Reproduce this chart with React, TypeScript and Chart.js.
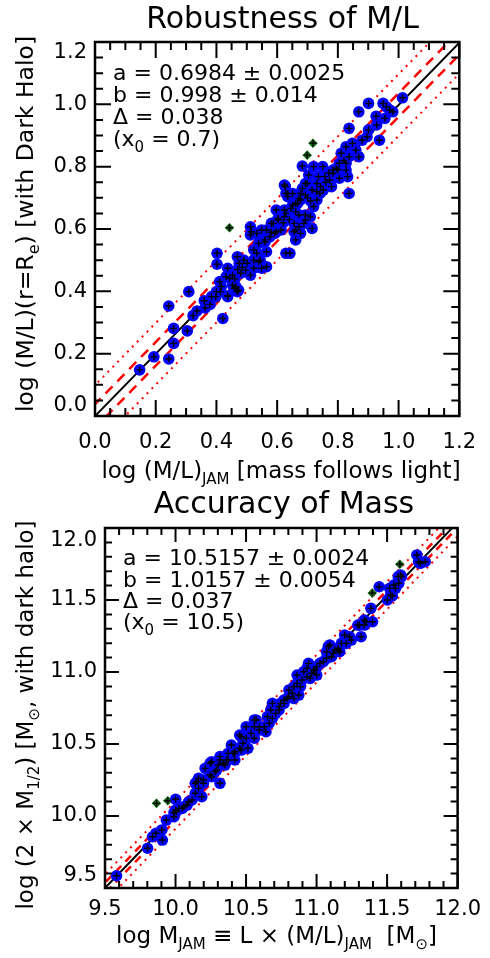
import React, { useEffect, useRef } from "react";
import { Chart, registerables } from "chart.js";

Chart.register(...registerables);

const FONT = "'DejaVu Sans', 'Liberation Sans', sans-serif";
const BLUE = "#0000ff";
const RED = "#ff0000";
const GREEN = "rgb(16,110,16)";

// ---------------- Panel 1: Robustness of M/L ----------------
const mlJam = [
  0.147, 0.194, 0.243, 0.259, 0.259, 0.243, 0.304, 0.323, 0.336, 0.309, 0.363, 0.379, 0.384, 0.4, 0.421, 0.437,
  0.416, 0.411, 0.402, 0.402, 0.432, 0.453, 0.459, 0.473, 0.475, 0.469, 0.485, 0.501, 0.512, 0.523, 0.533, 0.544,
  0.549, 0.565, 0.565, 0.56, 0.576, 0.597, 0.512, 0.515, 0.549, 0.587, 0.603, 0.624, 0.629, 0.642, 0.624, 0.635,
  0.627, 0.635, 0.651, 0.661, 0.667, 0.672, 0.677, 0.683, 0.699, 0.704, 0.683, 0.72, 0.75, 0.656, 0.661, 0.677,
  0.688, 0.715, 0.693, 0.709, 0.72, 0.731, 0.741, 0.743, 0.752, 0.736, 0.757, 0.773, 0.784, 0.795, 0.779, 0.805,
  0.811, 0.827, 0.837, 0.827, 0.832, 0.837, 0.848, 0.859, 0.869, 0.88, 0.896, 0.901, 0.837, 0.869, 0.901, 0.928,
  0.937, 0.926, 0.949, 0.96, 0.955, 0.971, 0.981, 1.013, 0.784, 0.827, 0.624, 0.629, 0.651, 0.693, 0.715, 0.731,
  0.597, 0.603, 0.629, 0.645, 0.661, 0.677, 0.693, 0.672, 0.693, 0.672, 0.656, 0.661, 0.581, 0.565, 0.533, 0.512,
  0.539, 0.523, 0.56, 0.592, 0.613, 0.496, 0.48, 0.523, 0.539, 0.443, 0.464, 0.437, 0.805, 0.62, 0.64, 0.7,
  0.71, 0.73, 0.76, 0.77, 0.8, 0.82, 0.58, 0.47, 0.36, 0.46, 0.49, 0.398, 0.413, 0.453, 0.469, 0.437,
];
const mlHalo = [
  0.148, 0.19, 0.183, 0.233, 0.281, 0.353, 0.273, 0.322, 0.337, 0.399, 0.347, 0.358, 0.383, 0.399, 0.313, 0.386,
  0.415, 0.431, 0.487, 0.522, 0.447, 0.452, 0.41, 0.404, 0.49, 0.511, 0.477, 0.49, 0.452, 0.5, 0.522, 0.5,
  0.474, 0.479, 0.527, 0.559, 0.575, 0.591, 0.607, 0.591, 0.597, 0.618, 0.629, 0.639, 0.522, 0.522, 0.661, 0.704,
  0.736, 0.714, 0.677, 0.655, 0.682, 0.698, 0.714, 0.73, 0.746, 0.773, 0.802, 0.8, 0.8, 0.618, 0.597, 0.586,
  0.618, 0.602, 0.645, 0.639, 0.672, 0.693, 0.714, 0.736, 0.725, 0.768, 0.768, 0.757, 0.778, 0.795, 0.736, 0.811,
  0.843, 0.864, 0.832, 0.789, 0.768, 0.714, 0.875, 0.853, 0.832, 0.885, 0.896, 0.918, 0.923, 0.976, 1.003, 0.934,
  0.885, 0.962, 1.003, 0.992, 0.955, 0.982, 0.976, 1.021, 0.789, 0.811, 0.741, 0.714, 0.714, 0.746, 0.725, 0.746,
  0.661, 0.634, 0.65, 0.666, 0.682, 0.693, 0.709, 0.645, 0.629, 0.607, 0.591, 0.565, 0.618, 0.597, 0.586, 0.581,
  0.554, 0.533, 0.565, 0.586, 0.597, 0.468, 0.458, 0.474, 0.495, 0.442, 0.415, 0.474, 0.763, 0.62, 0.63, 0.7,
  0.69, 0.72, 0.75, 0.78, 0.79, 0.82, 0.59, 0.47, 0.37, 0.44, 0.5, 0.383, 0.399, 0.42, 0.399, 0.383,
];
const mlOutlierJam = [0.443, 0.699, 0.718];
const mlOutlierHalo = [0.604, 0.837, 0.875];
const mlFitA = 0.6984;
const mlFitB = 0.998;
const mlFitX0 = 0.7;
const mlBandInner = 0.038;
const mlBandOuter = 0.099;
const mlLineX = [-0.2, 1.4];
const mlMajorTicks = [0, 0.2, 0.4, 0.6, 0.8, 1.0, 1.2];
const mlAllTicks = [
  0, 0.05, 0.1, 0.15, 0.2, 0.25, 0.3, 0.35, 0.4, 0.45, 0.5, 0.55, 0.6, 0.65, 0.7, 0.75, 0.8, 0.85, 0.9, 0.95, 1.0,
  1.05, 1.1, 1.15, 1.2,
];

// ---------------- Panel 2: Accuracy of Mass ----------------
const massJam = [
  9.582, 9.802, 9.837, 9.861, 9.907, 9.903, 9.935, 9.989, 10.005, 10.001, 10.047, 10.082, 10.117, 10.14, 10.163,
  10.186, 10.14, 10.163, 10.198, 10.21, 10.245, 10.256, 10.291, 10.315, 10.315, 10.35, 10.373, 10.396, 10.408,
  10.42, 10.455, 10.478, 10.455, 10.513, 10.501, 10.536, 10.559, 10.559, 10.594, 10.629, 10.641, 10.664, 10.687,
  10.687, 10.71, 10.734, 10.745, 10.769, 10.792, 10.804, 10.827, 10.839, 10.862, 10.862, 10.885, 10.897, 10.909,
  10.932, 10.943, 10.966, 10.989, 11.001, 11.024, 11.048, 11.071, 11.083, 11.106, 11.118, 11.153, 11.164, 11.199,
  11.211, 11.234, 11.246, 11.316, 11.304, 11.339, 11.351, 11.397, 11.385, 11.444, 11.502, 11.525, 11.518, 11.548,
  11.583, 11.579, 11.595, 11.711, 11.723, 11.77, 11.176, 11.153, 11.094, 11.071, 10.932, 10.978, 10.955, 11.001,
  10.804, 10.839, 10.874, 10.769, 10.734, 10.675, 10.652, 10.571, 10.594, 10.501, 10.466, 10.559, 10.42, 10.466,
  10.373, 11.735, 11.602, 11.56, 11.537, 11.339, 11.293, 11.129, 9.989, 10.001, 10.024, 10.059, 10.094, 10.152,
  10.198, 10.245, 10.256, 10.28, 10.303, 10.315, 10.338, 10.361, 10.42,
];
const massHalo = [
  9.585, 9.776, 9.856, 9.88, 9.833, 9.903, 9.972, 9.995, 10.03, 10.116, 10.053, 10.076, 10.111, 10.158, 10.192,
  10.134, 10.227, 10.262, 10.227, 10.331, 10.366, 10.273, 10.319, 10.227, 10.389, 10.354, 10.389, 10.493, 10.435,
  10.389, 10.47, 10.505, 10.562, 10.47, 10.54, 10.574, 10.62, 10.667, 10.597, 10.62, 10.585, 10.644, 10.678,
  10.782, 10.713, 10.736, 10.782, 10.782, 10.817, 10.875, 10.852, 10.898, 10.921, 10.979, 10.898, 10.944, 11.002,
  10.967, 11.06, 10.991, 11.014, 11.037, 11.06, 11.072, 11.095, 11.176, 11.106, 11.13, 11.165, 11.141, 11.257,
  11.199, 11.245, 11.222, 11.245, 11.326, 11.326, 11.349, 11.349, 11.442, 11.592, 11.5, 11.535, 11.581, 11.604,
  11.616, 11.662, 11.674, 11.813, 11.766, 11.766, 11.199, 11.153, 11.188, 11.141, 11.026, 11.014, 10.956, 10.979,
  10.828, 10.817, 10.84, 10.806, 10.759, 10.736, 10.69, 10.667, 10.62, 10.62, 10.551, 10.54, 10.447, 10.458,
  10.435, 11.755, 11.662, 11.581, 11.528, 11.361, 11.326, 11.153, 10.023, 10.042, 10.053, 10.065, 10.099, 10.238,
  10.25, 10.285, 10.377, 10.308, 10.354, 10.412, 10.366, 10.389, 10.435,
];
const massOutlierJam = [9.865, 9.945, 11.395, 11.59];
const massOutlierHalo = [10.088, 10.106, 11.548, 11.748];
const massFitA = 10.5157;
const massFitB = 1.0157;
const massFitX0 = 10.5;
const massBandInner = 0.037;
const massBandOuter = 0.096;
const massLineX = [9.3, 12.2];
const massMajorTicks = [9.5, 10.0, 10.5, 11.0, 11.5, 12.0];
const massAllTicks = [
  9.5, 9.6, 9.7, 9.8, 9.9, 10.0, 10.1, 10.2, 10.3, 10.4, 10.5, 10.6, 10.7, 10.8, 10.9, 11.0, 11.1, 11.2, 11.3, 11.4,
  11.5, 11.6, 11.7, 11.8, 11.9, 12.0,
];

type Seg = { t: string; sub?: boolean };
type TextItem = { segs: Seg[]; x: number; y: number; size: number; align: "left" | "center"; rotate?: boolean };

function drawRich(ctx: CanvasRenderingContext2D, item: TextItem) {
  const { segs, x, y, size, align, rotate } = item;
  const subSize = Math.round(size * 0.66);
  ctx.save();
  ctx.translate(x, y);
  if (rotate) ctx.rotate(-Math.PI / 2);
  ctx.fillStyle = "#000";
  ctx.textBaseline = "alphabetic";
  ctx.textAlign = "left";
  let total = 0;
  const widths = segs.map((s) => {
    ctx.font = `${s.sub ? subSize : size}px ${FONT}`;
    const w = ctx.measureText(s.t).width;
    total += w;
    return w;
  });
  let cx = align === "center" ? -total / 2 : 0;
  segs.forEach((s, i) => {
    ctx.font = `${s.sub ? subSize : size}px ${FONT}`;
    ctx.fillText(s.t, cx, s.sub ? size * 0.27 : 0);
    cx += widths[i];
  });
  ctx.restore();
}

type PanelSpec = {
  xs: number[];
  ys: number[];
  gx: number[];
  gy: number[];
  a: number;
  b: number;
  x0: number;
  inner: number;
  outer: number;
  lineX: number[];
  min: number;
  max: number;
  allTicks: number[];
  majors: number[];
  yAxisWidth: number;
  padding: { top: number; right: number; bottom: number };
  xTickPad: number;
  yLineHeight: number;
  majorLen: number;
  minorLen: number;
  dash: number[];
  texts: TextItem[];
};

function isMajor(v: number, majors: number[]) {
  return majors.some((m) => Math.abs(m - v) < 1e-6);
}

function makeChart(canvas: HTMLCanvasElement, p: PanelSpec) {
  const fit = (x: number, off: number) => ({ x, y: p.a + p.b * (x - p.x0) + off });
  const line = (off: number, color: string, width: number, dash: number[]) => ({
    data: p.lineX.map((x) => fit(x, off)),
    showLine: true,
    pointRadius: 0,
    borderColor: color,
    borderWidth: width,
    borderDash: dash,
    fill: false,
    clip: 0,
    order: 3,
  });
  const blue = p.xs.map((x, i) => ({ x, y: p.ys[i] }));
  const green = p.gx.map((x, i) => ({ x, y: p.gy[i] }));

  const framePlugin = {
    id: "frameTicks",
    afterDatasetsDraw(chart: any) {
      const { ctx, chartArea: ca, scales } = chart;
      const xs = scales.x;
      const ys = scales.y;
      ctx.save();
      ctx.strokeStyle = "#000";
      ctx.lineWidth = 2;
      ctx.beginPath();
      p.allTicks.forEach((v) => {
        const len = isMajor(v, p.majors) ? p.majorLen : p.minorLen;
        const px = xs.getPixelForValue(v);
        ctx.moveTo(px, ca.bottom);
        ctx.lineTo(px, ca.bottom - len);
        ctx.moveTo(px, ca.top);
        ctx.lineTo(px, ca.top + len);
        const py = ys.getPixelForValue(v);
        ctx.moveTo(ca.left, py);
        ctx.lineTo(ca.left + len, py);
        ctx.moveTo(ca.right, py);
        ctx.lineTo(ca.right - len, py);
      });
      ctx.stroke();
      ctx.lineWidth = 2.5;
      ctx.strokeRect(ca.left, ca.top, ca.right - ca.left, ca.bottom - ca.top);
      ctx.restore();
    },
    afterDraw(chart: any) {
      const ctx = chart.ctx as CanvasRenderingContext2D;
      p.texts.forEach((t) => drawRich(ctx, t));
    },
  };

  const tickFont = { family: FONT, size: 21 };

  return new Chart(canvas, {
    type: "scatter",
    data: {
      datasets: [
        {
          data: blue.concat(green),
          pointStyle: "cross",
          pointRadius: 3.5,
          borderColor: "#000",
          borderWidth: 1.4,
          backgroundColor: "#000",
          order: 0,
          clip: false,
        } as any,
        {
          data: blue,
          pointStyle: "circle",
          pointRadius: 5.8,
          backgroundColor: BLUE,
          borderWidth: 0,
          order: 1,
          clip: false,
        },
        {
          data: green,
          pointStyle: "rectRot",
          pointRadius: 4.8,
          backgroundColor: GREEN,
          borderWidth: 0,
          order: 1,
          clip: false,
        },
        line(0, "#000", 2, []),
        line(p.inner, RED, 2.5, p.dash),
        line(-p.inner, RED, 2.5, p.dash),
        line(p.outer, RED, 2, [2, 5]),
        line(-p.outer, RED, 2, [2, 5]),
      ] as any,
    },
    options: {
      responsive: false,
      animation: false,
      events: [],
      layout: { padding: { top: p.padding.top, right: p.padding.right, bottom: p.padding.bottom, left: 0 } },
      plugins: { legend: { display: false }, tooltip: { enabled: false } },
      scales: {
        x: {
          type: "linear",
          min: p.min,
          max: p.max,
          afterBuildTicks: (s: any) => {
            s.ticks = p.allTicks.map((v) => ({ value: v }));
          },
          afterFit: (s: any) => {
            s.height = 40;
          },
          grid: { display: false, drawTicks: false },
          border: { display: false },
          ticks: {
            autoSkip: false,
            maxRotation: 0,
            minRotation: 0,
            padding: p.xTickPad,
            color: "#000",
            font: tickFont,
            callback: (v: any) => (isMajor(Number(v), p.majors) ? Number(v).toFixed(1) : ""),
          },
        },
        y: {
          type: "linear",
          min: p.min,
          max: p.max,
          afterBuildTicks: (s: any) => {
            s.ticks = p.allTicks.map((v) => ({ value: v }));
          },
          afterFit: (s: any) => {
            s.width = p.yAxisWidth;
          },
          grid: { display: false, drawTicks: false },
          border: { display: false },
          ticks: {
            autoSkip: false,
            padding: 8,
            color: "#000",
            font: { ...tickFont, lineHeight: p.yLineHeight },
            callback: (v: any) => {
              const n = Number(v);
              if (!isMajor(n, p.majors)) return "";
              const s = n.toFixed(1);
              if (Math.abs(n - p.max) < 1e-6) return ["", s];
              if (Math.abs(n - p.min) < 1e-6) return [s, ""];
              return s;
            },
          },
        },
      },
    } as any,
    plugins: [framePlugin],
  });
}

const topSpec: PanelSpec = {
  xs: mlJam,
  ys: mlHalo,
  gx: mlOutlierJam,
  gy: mlOutlierHalo,
  a: mlFitA,
  b: mlFitB,
  x0: mlFitX0,
  inner: mlBandInner,
  outer: mlBandOuter,
  lineX: mlLineX,
  min: 0,
  max: 1.2,
  allTicks: mlAllTicks,
  majors: mlMajorTicks,
  yAxisWidth: 95,
  padding: { top: 42, right: 20, bottom: 32 },
  xTickPad: 14,
  yLineHeight: 1.0,
  majorLen: 16,
  minorLen: 8,
  dash: [10, 7],
  texts: [
    { segs: [{ t: "Robustness of M/L" }], x: 282.5, y: 28, size: 30, align: "center" },
    { segs: [{ t: "a = 0.6984 ± 0.0025" }], x: 113, y: 80, size: 22, align: "left" },
    { segs: [{ t: "b = 0.998 ± 0.014" }], x: 113, y: 102, size: 22, align: "left" },
    { segs: [{ t: "Δ = 0.038" }], x: 113, y: 124, size: 22, align: "left" },
    { segs: [{ t: "(x" }, { t: "0", sub: true }, { t: " = 0.7)" }], x: 113, y: 146, size: 22, align: "left" },
    {
      segs: [{ t: "log (M/L)" }, { t: "JAM", sub: true }, { t: " [mass follows light]" }],
      x: 281,
      y: 478,
      size: 23,
      align: "center",
    },
    {
      segs: [{ t: "log (M/L)(r=R" }, { t: "e", sub: true }, { t: ") [with Dark Halo]" }],
      x: 33,
      y: 224,
      size: 23.5,
      align: "center",
      rotate: true,
    },
  ],
};

const bottomSpec: PanelSpec = {
  xs: massJam,
  ys: massHalo,
  gx: massOutlierJam,
  gy: massOutlierHalo,
  a: massFitA,
  b: massFitB,
  x0: massFitX0,
  inner: massBandInner,
  outer: massBandOuter,
  lineX: massLineX,
  min: 9.5,
  max: 12.0,
  allTicks: massAllTicks,
  majors: massMajorTicks,
  yAxisWidth: 105,
  padding: { top: 40, right: 27, bottom: 30 },
  xTickPad: 9,
  yLineHeight: 1.15,
  majorLen: 14,
  minorLen: 7,
  dash: [8, 6],
  texts: [
    { segs: [{ t: "Accuracy of Mass" }], x: 284, y: 25, size: 30, align: "center" },
    { segs: [{ t: "a = 10.5157 ± 0.0024" }], x: 123, y: 77, size: 22, align: "left" },
    { segs: [{ t: "b = 1.0157 ± 0.0054" }], x: 123, y: 99, size: 22, align: "left" },
    { segs: [{ t: "Δ = 0.037" }], x: 123, y: 120, size: 22, align: "left" },
    { segs: [{ t: "(x" }, { t: "0", sub: true }, { t: " = 10.5)" }], x: 123, y: 141, size: 22, align: "left" },
    {
      segs: [
        { t: "log M" },
        { t: "JAM", sub: true },
        { t: " ≡ L × (M/L)" },
        { t: "JAM", sub: true },
        { t: "  [M" },
        { t: "⊙", sub: true },
        { t: "]" },
      ],
      x: 276.5,
      y: 455,
      size: 23,
      align: "center",
    },
    {
      segs: [
        { t: "log (2 × M" },
        { t: "1/2", sub: true },
        { t: ") [M" },
        { t: "⊙", sub: true },
        { t: ", with dark halo]" },
      ],
      x: 33,
      y: 227,
      size: 23,
      align: "center",
      rotate: true,
    },
  ],
};

export default function App() {
  const topRef = useRef<HTMLCanvasElement | null>(null);
  const bottomRef = useRef<HTMLCanvasElement | null>(null);

  useEffect(() => {
    const charts: Chart[] = [];
    if (topRef.current) charts.push(makeChart(topRef.current, topSpec));
    if (bottomRef.current) charts.push(makeChart(bottomRef.current, bottomSpec));
    return () => charts.forEach((c) => c.destroy());
  }, []);

  return (
    <div style={{ position: "absolute", left: 0, top: 0, width: 490, height: 958, background: "#fff" }}>
      <canvas ref={topRef} width={490} height={488} style={{ display: "block", width: 490, height: 488 }} />
      <canvas ref={bottomRef} width={490} height={470} style={{ display: "block", width: 490, height: 470 }} />
    </div>
  );
}
